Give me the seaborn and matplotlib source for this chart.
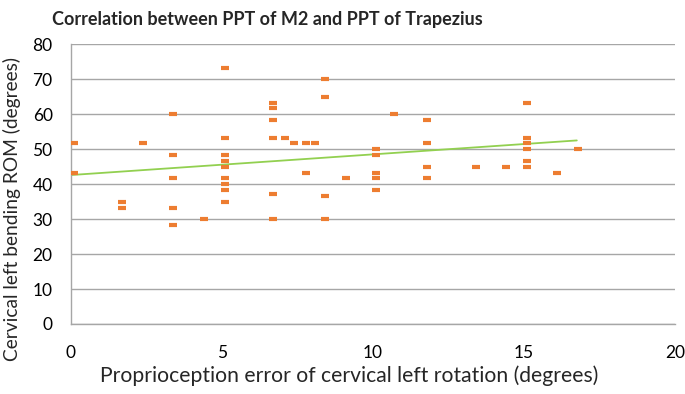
import numpy as np
import pandas as pd
import matplotlib
matplotlib.use("Agg")
import matplotlib.pyplot as plt
import seaborn as sns

# Proprioception error (x) and cervical left bending ROM (y)
prop_error = [
    0.1, 0.1,
    1.7, 1.7,
    2.4,
    3.4, 3.4, 3.4, 3.4, 3.4,
    4.4,
    5.1, 5.1, 5.1, 5.1, 5.1, 5.1, 5.1, 5.1, 5.1,
    6.7, 6.7, 6.7, 6.7, 6.7, 6.7,
    7.1, 7.4, 7.8, 7.8, 8.1,
    8.4, 8.4, 8.4, 8.4,
    9.1,
    10.1, 10.1, 10.1, 10.1, 10.1,
    10.7,
    11.8, 11.8, 11.8, 11.8,
    13.4, 14.4,
    15.1, 15.1, 15.1, 15.1, 15.1, 15.1,
    16.1, 16.8,
]
rom = [
    51.7, 43.3,
    35.0, 33.3,
    51.7,
    60.0, 48.3, 41.7, 33.3, 28.3,
    30.0,
    73.3, 53.3, 48.3, 46.7, 45.0, 41.7, 40.0, 38.3, 35.0,
    63.3, 61.7, 58.3, 53.3, 37.3, 30.0,
    53.3, 51.7, 51.7, 43.3, 51.7,
    70.0, 65.0, 36.7, 30.0,
    41.7,
    50.0, 48.3, 43.3, 41.7, 38.3,
    60.0,
    58.3, 51.7, 45.0, 41.7,
    45.0, 45.0,
    63.3, 53.3, 51.7, 50.0, 46.7, 45.0,
    43.3, 50.0,
]

# linear trendline end points as shown in the chart
trend_x = [0.0, 16.75]
trend_y = [42.6, 52.5]

x_ticks = [0, 5, 10, 15, 20]
y_ticks = [0, 10, 20, 30, 40, 50, 60, 70, 80]

df = pd.DataFrame({"error": prop_error, "rom": rom})
trend = pd.DataFrame({"error": trend_x, "rom": trend_y})

sns.set_style("white")
plt.rcParams["font.family"] = ["Lato", "DejaVu Sans"]

grid_col = "#A6A6A6"

fig = plt.figure(figsize=(6.85, 3.94), dpi=100)
ax = fig.add_axes([0.1032, 0.1777, 0.8822, 0.7099])

sns.lineplot(data=trend, x="error", y="rom", ax=ax,
             color="#92D050", lw=1.3, zorder=2)
sns.scatterplot(data=df, x="error", y="rom", ax=ax,
                marker="_", s=30, linewidth=3, color="#ED7D31", zorder=3)

ax.set_xlim(0, 20)
ax.set_ylim(0, 80)
ax.set_xticks(x_ticks)
ax.set_yticks(y_ticks)
ax.yaxis.grid(True, color=grid_col, lw=1)
ax.set_axisbelow(True)

for side in ["top", "right"]:
    ax.spines[side].set_visible(False)
for side in ["left", "bottom"]:
    ax.spines[side].set_color(grid_col)
    ax.spines[side].set_linewidth(1)

ax.tick_params(axis="both", length=5, width=1, color=grid_col,
               labelsize=12.5, labelcolor="black")
ax.tick_params(axis="x", pad=10)
ax.tick_params(axis="y", pad=8)

ax.set_xlabel("Proprioception error of cervical left rotation (degrees)",
              fontsize=15.2)
ax.xaxis.set_label_coords(0.461, -0.148)
ax.set_ylabel("Cervical left bending ROM (degrees)", fontsize=13.8)
ax.yaxis.set_label_coords(-0.082, 0.41)

fig.text(52 / 685, 1 - 20 / 394, "Correlation between PPT of M2 and PPT of Trapezius",
         fontsize=13, fontweight="bold", ha="left", va="center")

fig.savefig("out.png", dpi=100)
